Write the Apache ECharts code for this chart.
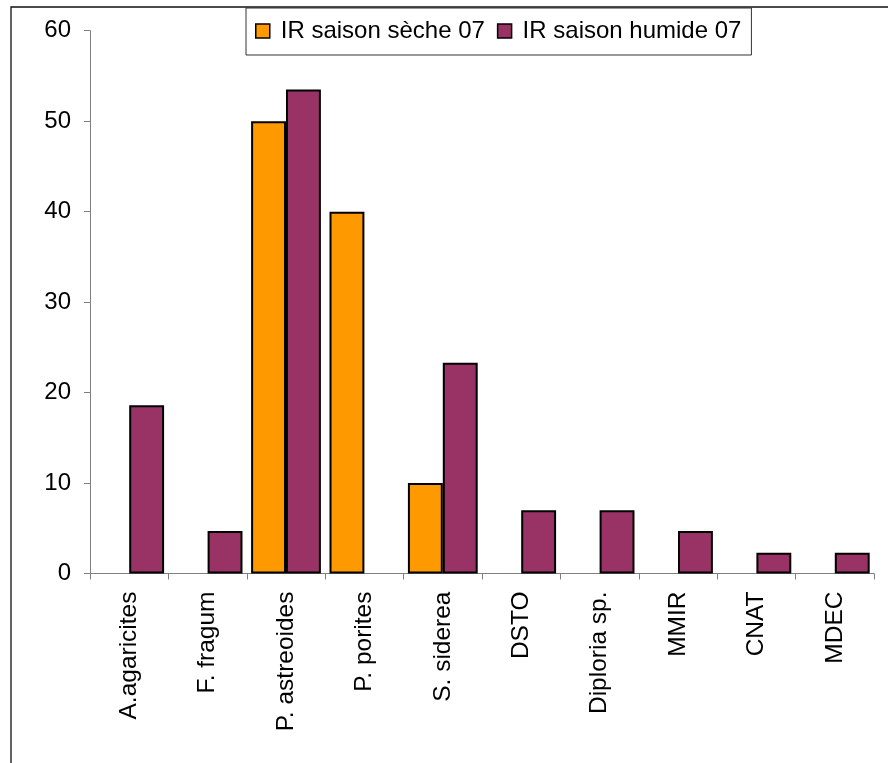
<!DOCTYPE html>
<html>
<head>
<meta charset="utf-8">
<script src="https://cdn.jsdelivr.net/npm/echarts@6/dist/echarts.min.js"></script>
<style>
  html, body { margin: 0; padding: 0; background: #fff; }
  #chart { width: 888px; height: 763px; }
</style>
</head>
<body>
<div id="chart"></div>
<script>
// Coral species / groups on the category axis
const categories = ['A.agaricites', 'F. fragum', 'P. astreoides', 'P. porites', 'S. siderea',
                    'DSTO', 'Diploria sp.', 'MMIR', 'CNAT', 'MDEC'];
// IR values per season (null = no bar)
const dryValues = [null, null, 50, 40, 10, null, null, null, null, null];
const wetValues = [18.6, 4.7, 53.5, null, 23.3, 7.0, 7.0, 4.7, 2.3, 2.3];
const seriesNames = ['IR saison sèche 07', 'IR saison humide 07'];
const yTicks = { min: 0, max: 60, interval: 10 };

const FONT = 'Liberation Sans, Arial, sans-serif';
const axisGray = '#808080';

const chart = echarts.init(document.getElementById('chart'), null, { renderer: 'canvas' });
chart.setOption({
  backgroundColor: '#ffffff',
  animation: false,
  graphic: [{
    type: 'rect',
    shape: { x: 11, y: 7, width: 1000, height: 1000 },
    style: { fill: 'none', stroke: '#111', lineWidth: 1.3 },
    z: -1
  }],
  legend: {
    left: 246,
    top: 8,
    padding: [11, 10, 12, 9],
    itemGap: 12,
    itemWidth: 14,
    itemHeight: 14,
    icon: 'rect',
    borderColor: '#333',
    borderWidth: 1,
    backgroundColor: '#fff',
    textStyle: { fontFamily: FONT, fontSize: 24, color: '#000', padding: [0, 0, 0, 6] },
    itemStyle: { borderColor: '#000', borderWidth: 1.5 },
    data: seriesNames
  },
  grid: { left: 90, right: 14, top: 30.7, bottom: 189.5, containLabel: false },
  xAxis: {
    type: 'category',
    data: categories,
    axisLine: { show: true, lineStyle: { color: axisGray, width: 1 } },
    axisTick: { show: true, length: 6, lineStyle: { color: axisGray } },
    axisLabel: {
      interval: 0, rotate: 90, margin: 18,
      fontFamily: FONT, fontSize: 24.5, color: '#000'
    }
  },
  yAxis: {
    type: 'value',
    min: yTicks.min, max: yTicks.max, interval: yTicks.interval,
    splitLine: { show: false },
    axisLine: { show: true, lineStyle: { color: axisGray, width: 1 } },
    axisTick: { show: true, length: 6, lineStyle: { color: axisGray } },
    axisLabel: { margin: 19, fontFamily: FONT, fontSize: 24, color: '#000' }
  },
  series: [
    {
      name: seriesNames[0], type: 'bar', data: dryValues,
      barGap: '0%', barCategoryGap: '11%',
      itemStyle: { color: '#FF9900', borderColor: '#000', borderWidth: 2 }
    },
    {
      name: seriesNames[1], type: 'bar', data: wetValues,
      barGap: '0%', barCategoryGap: '11%',
      itemStyle: { color: '#993366', borderColor: '#000', borderWidth: 2 }
    }
  ]
});
</script>
</body>
</html>
